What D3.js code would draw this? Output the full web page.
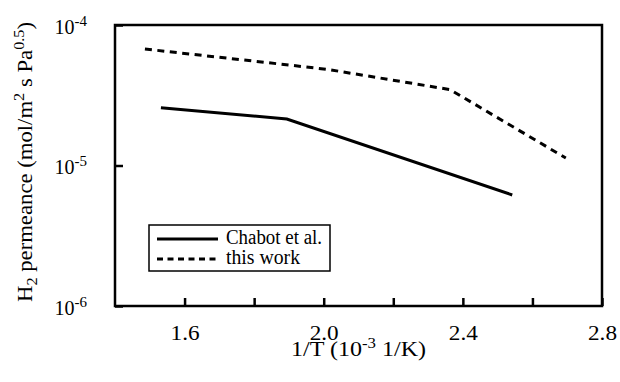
<!DOCTYPE html>
<html>
<head>
<meta charset="utf-8">
<script src="https://cdn.jsdelivr.net/npm/d3@7/dist/d3.min.js"></script>
<style>
  html, body { margin: 0; padding: 0; background: #fff; }
  svg { display: block; }
  text { font-family: "Liberation Serif", "Times New Roman", serif; fill: #000; }
</style>
</head>
<body>
<svg id="chart" width="620" height="382"></svg>
<script>
// ---- data ----
const chabotX = [1.532, 1.894, 2.542];
const chabotY = [2.58e-5, 2.14e-5, 6.17e-6];
const thisWorkX = [1.486, 2.009, 2.363, 2.696];
const thisWorkY = [6.75e-5, 4.84e-5, 3.47e-5, 1.13e-5];
const xTickValues = [1.6, 1.8, 2.0, 2.2, 2.4, 2.6, 2.8];
const xTickLabels = ["1.6", "", "2.0", "", "2.4", "", "2.8"];
const yTickValues = [1e-4, 1e-5, 1e-6];
const yTickExponents = ["-4", "-5", "-6"];
const seriesNames = ["Chabot et al.", "this work"];

// ---- layout ----
const svg = d3.select("#chart");
const L = 115, R = 602, T = 25, B = 306;
const x = d3.scaleLinear().domain([1.4, 2.8]).range([L, R]);
const y = d3.scaleLog().domain([1e-6, 1e-4]).range([B, T]);

// frame
svg.append("rect")
  .attr("x", L).attr("y", T).attr("width", R - L).attr("height", B - T)
  .attr("fill", "none").attr("stroke", "#000").attr("stroke-width", 2.5);

// x axis
const xAxis = d3.axisBottom(x).tickValues(xTickValues)
  .tickSizeInner(-8).tickSizeOuter(0).tickPadding(0)
  .tickFormat((d, i) => xTickLabels[i]);
const gx = svg.append("g").attr("transform", `translate(0,${B})`).call(xAxis);
gx.select(".domain").remove();
gx.selectAll(".tick line").attr("stroke", "#000").attr("stroke-width", 2.5);
gx.selectAll(".tick text")
  .attr("y", 34).attr("dy", null)
  .attr("textLength", d => xTickLabels[xTickValues.indexOf(d)] ? 29 : null)
  .attr("lengthAdjust", "spacingAndGlyphs")
  .style("font-size", "20px");

// y axis
const yAxis = d3.axisLeft(y).tickValues(yTickValues)
  .tickSizeInner(-8).tickSizeOuter(0).tickPadding(0)
  .tickFormat(() => "");
const gy = svg.append("g").attr("transform", `translate(${L},0)`).call(yAxis);
gy.select(".domain").remove();
gy.selectAll(".tick line").attr("stroke", "#000").attr("stroke-width", 2.5);
gy.selectAll(".tick text").each(function(d, i) {
  const t = d3.select(this);
  t.attr("x", -28).attr("dy", null).attr("y", 8)
    .attr("text-anchor", "end").style("font-size", "20px");
  t.append("tspan").text("10");
  t.append("tspan").attr("dy", -8).style("font-size", "15px").text(yTickExponents[i]);
});

// lines
const line = d3.line().x(d => x(d[0])).y(d => y(d[1]));
svg.append("path")
  .datum(chabotX.map((v, i) => [v, chabotY[i]]))
  .attr("d", line).attr("fill", "none").attr("stroke", "#000").attr("stroke-width", 3);
svg.append("path")
  .datum(thisWorkX.map((v, i) => [v, thisWorkY[i]]))
  .attr("d", line).attr("fill", "none").attr("stroke", "#000").attr("stroke-width", 3)
  .attr("stroke-dasharray", "7,5.5");

// legend
const lg = svg.append("g");
lg.append("rect").attr("x", 149).attr("y", 225).attr("width", 181).attr("height", 46)
  .attr("fill", "#fff").attr("stroke", "#000").attr("stroke-width", 1.5);
const styles = [null, "6,4.5"];
const legendLens = [96, 74];
seriesNames.forEach((name, i) => {
  const yy = 239 + i * 20;
  lg.append("line").attr("x1", 157).attr("x2", 218).attr("y1", yy).attr("y2", yy)
    .attr("stroke", "#000").attr("stroke-width", 3)
    .attr("stroke-dasharray", styles[i]);
  lg.append("text").attr("x", 226).attr("y", yy + 4.5)
    .attr("textLength", legendLens[i]).attr("lengthAdjust", "spacingAndGlyphs")
    .style("font-size", "20px").text(name);
});

// x title
const xt = svg.append("text").attr("x", 291).attr("y", 356)
  .attr("textLength", 135).attr("lengthAdjust", "spacingAndGlyphs")
  .style("font-size", "20px");
xt.append("tspan").text("1/T (10");
xt.append("tspan").attr("dy", -8).style("font-size", "14px").text("-3");
xt.append("tspan").attr("dy", 8).text(" 1/K)");

// y title
const yt = svg.append("text")
  .attr("transform", "translate(32,302) rotate(-90)")
  .attr("textLength", 280).attr("lengthAdjust", "spacingAndGlyphs")
  .style("font-size", "21px");
yt.append("tspan").text("H");
yt.append("tspan").attr("dy", 5).style("font-size", "15px").text("2");
yt.append("tspan").attr("dy", -5).text(" permeance (mol/m");
yt.append("tspan").attr("dy", -8).style("font-size", "15px").text("2");
yt.append("tspan").attr("dy", 8).text(" s Pa");
yt.append("tspan").attr("dy", -8).style("font-size", "15px").text("0.5");
yt.append("tspan").attr("dy", 8).text(")");
</script>
</body>
</html>
